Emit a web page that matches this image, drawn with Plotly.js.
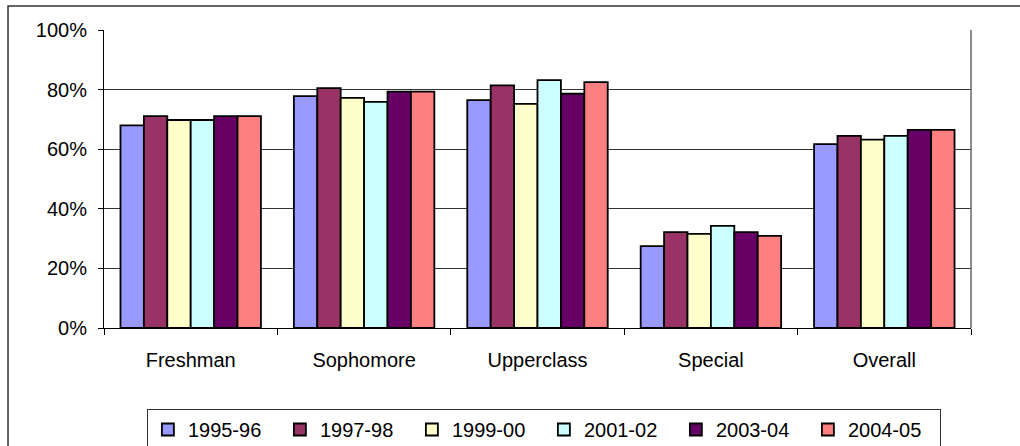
<!DOCTYPE html>
<html>
<head>
<meta charset="utf-8">
<script src="https://cdn.plot.ly/plotly-3.0.1.min.js"></script>
<style>html,body{margin:0;padding:0;background:#fff;}#chart{width:1020px;height:446px;}</style>
</head>
<body>
<div id="chart"></div>
<script>
var categories = ["Freshman", "Sophomore", "Upperclass", "Special", "Overall"];
var seriesNames = ["1995-96", "1997-98", "1999-00", "2001-02", "2003-04", "2004-05"];
var v1995 = [0.68, 0.778, 0.765, 0.275, 0.617];
var v1997 = [0.711, 0.805, 0.814, 0.322, 0.645];
var v1999 = [0.698, 0.772, 0.752, 0.316, 0.632];
var v2001 = [0.698, 0.759, 0.832, 0.343, 0.645];
var v2003 = [0.711, 0.793, 0.786, 0.322, 0.665];
var v2004 = [0.711, 0.793, 0.825, 0.309, 0.665];
var seriesValues = [v1995, v1997, v1999, v2001, v2003, v2004];
var colors = ["#9999FF", "#993366", "#FFFFCC", "#CCFFFF", "#660066", "#FF8080"];

var traces = seriesNames.map(function(name, i){
  return {
    type: "bar", name: name, x: categories, y: seriesValues[i],
    marker: {color: colors[i], line: {color: "#000000", width: 1.8}},
    hoverinfo: "skip"
  };
});

var font = {family: "Liberation Sans, Arial, sans-serif", size: 20, color: "#000"};
var layout = {
  width: 1020, height: 446,
  margin: {l: 104, r: 49, t: 30, b: 118, autoexpand: false},
  paper_bgcolor: "#fff", plot_bgcolor: "#fff",
  font: font,
  barmode: "group", bargap: 0.19, bargroupgap: 0,
  showlegend: true,
  legend: {
    orientation: "h", xref: "container", yref: "container",
    x: 0.144, xanchor: "left", y: 0.083, yanchor: "top",
    bordercolor: "#333", borderwidth: 1, font: font,
    entrywidth: 87, traceorder: "normal", itemclick: false
  },
  xaxis: {
    type: "category", tickfont: font,
    showline: true, linecolor: "#000", linewidth: 1, mirror: false,
    ticks: "outside", ticklen: 6, tickcolor: "#000", tickson: "boundaries",
    showgrid: false, zeroline: false, ticklabelstandoff: 14, fixedrange: true
  },
  yaxis: {
    range: [0, 1], dtick: 0.2, tickformat: ".0%", tickfont: font,
    showline: true, linecolor: "#000", linewidth: 1,
    ticks: "outside", ticklen: 5, tickcolor: "#000",
    showgrid: true, gridcolor: "#333", gridwidth: 1, zeroline: false,
    ticklabelstandoff: 7, fixedrange: true
  },
  shapes: [
    {type: "rect", xref: "paper", yref: "paper", x0: -0.1107, x1: 1.08, y0: -0.5, y1: 1.0805,
     line: {color: "#333", width: 1.5}, fillcolor: "rgba(0,0,0,0)", layer: "below"},
    {type: "line", xref: "paper", yref: "paper", x0: 1, x1: 1, y0: 0, y1: 1,
     line: {color: "#666", width: 1.5}}
  ]
};
Plotly.newPlot("chart", traces, layout, {staticPlot: true, displayModeBar: false});
</script>
</body>
</html>
